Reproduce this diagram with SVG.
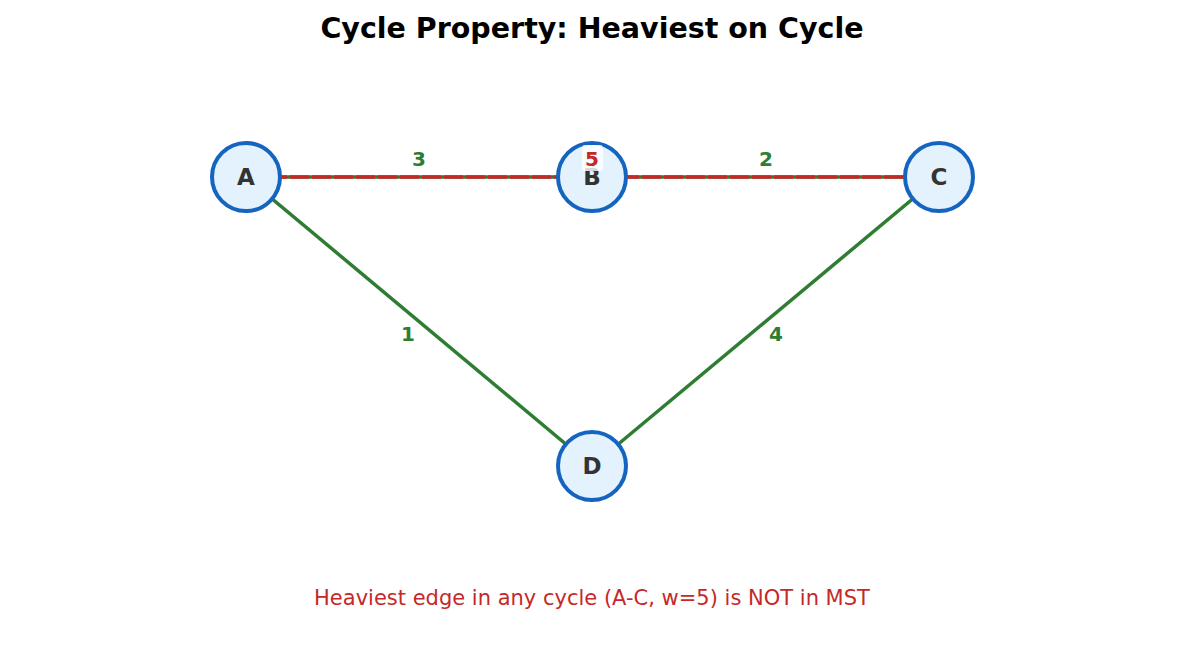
<svg xmlns="http://www.w3.org/2000/svg" width="1185" height="654" viewBox="0 0 1185 654">
<style>
.e{stroke:#2e7d32;stroke-width:3.5;fill:none}
.n circle{fill:#e3f2fd;stroke:#1565c0;stroke-width:4}
.n text{font:bold 23px "DejaVu Sans",sans-serif;fill:#333;text-anchor:middle;dominant-baseline:central}
.w{font:bold 20px "DejaVu Sans",sans-serif;fill:#2e7d32;text-anchor:middle}
</style>
<rect width="1185" height="654" fill="#fff"/>
<text x="592" y="38" text-anchor="middle" style="font:bold 28.5px 'DejaVu Sans',sans-serif">Cycle Property: Heaviest on Cycle</text>
<g id="connectors">
<line class="e" x1="246" y1="177" x2="592" y2="177"/>
<line class="e" x1="592" y1="177" x2="939" y2="177"/>
<line class="e" x1="246" y1="177" x2="592" y2="466"/>
<line class="e" x1="939" y1="177" x2="592" y2="466"/>
<line x1="246" y1="177" x2="939" y2="177" stroke="#c62828" stroke-width="3.5" stroke-dasharray="19 3"/>
</g>
<g id="A" class="n"><circle cx="246" cy="177" r="34"/><text x="246" y="177">A</text></g>
<g id="B" class="n"><circle cx="592" cy="177" r="34"/><text x="592" y="177">B</text></g>
<g id="C" class="n"><circle cx="939" cy="177" r="34"/><text x="939" y="177">C</text></g>
<g id="D" class="n"><circle cx="592" cy="466" r="34"/><text x="592" y="466">D</text></g>
<g id="labels">
<text class="w" x="419" y="166">3</text>
<text class="w" x="766" y="166">2</text>
<text class="w" x="408" y="341">1</text>
<text class="w" x="776" y="341">4</text>
<rect x="582" y="145" width="21" height="26" rx="3" fill="#fff" fill-opacity="0.8"/>
<text class="w" x="592" y="166" style="fill:#c62828">5</text>
</g>
<text x="592" y="605" text-anchor="middle" fill="#c62828" style="font:21px 'DejaVu Sans',sans-serif">Heaviest edge in any cycle (A-C, w=5) is NOT in MST</text>
</svg>
